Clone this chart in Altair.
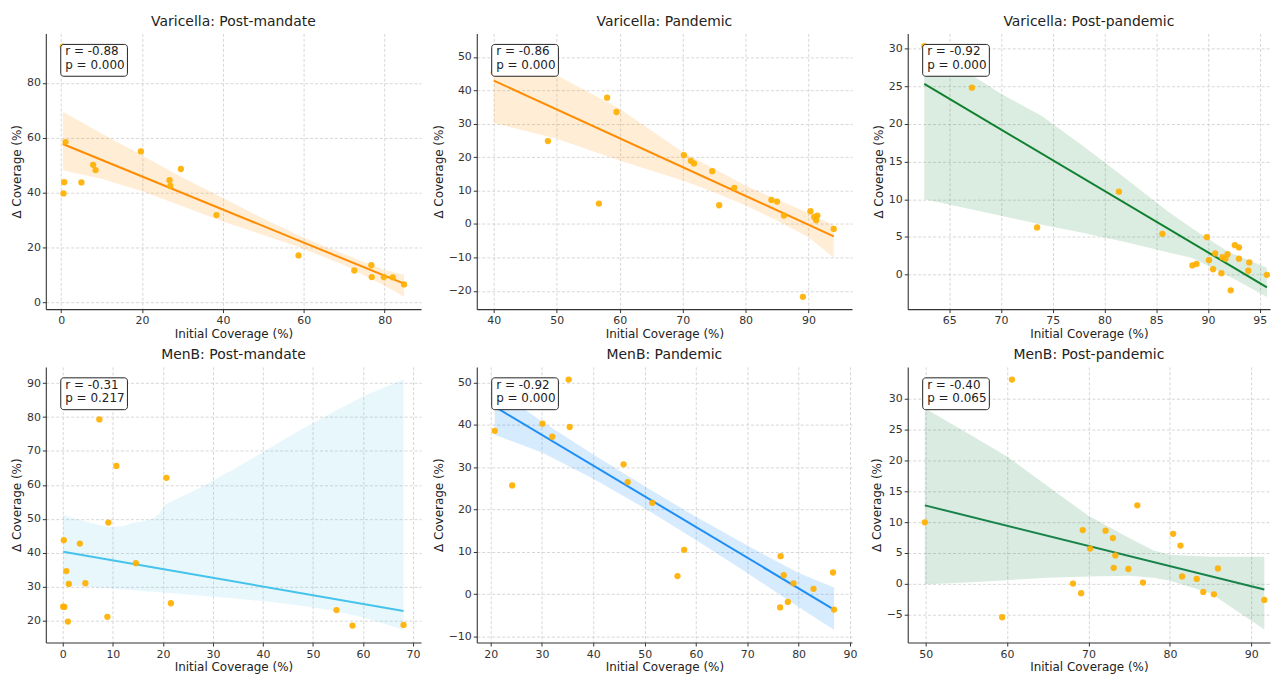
import altair as alt
import pandas as pd

FONT = "DejaVu Sans"
POINT_COLOR = "#FFB000"

titles = ["Varicella: Post-mandate", "Varicella: Pandemic", "Varicella: Post-pandemic",
          "MenB: Post-mandate", "MenB: Pandemic", "MenB: Post-pandemic"]
r_labels = ["r = -0.88", "r = -0.86", "r = -0.92", "r = -0.31", "r = -0.92", "r = -0.40"]
p_labels = ["p = 0.000", "p = 0.000", "p = 0.000", "p = 0.217", "p = 0.000", "p = 0.065"]
line_colors = ["#FF8C00", "#FF8C00", "#0F8030", "#45C3EB", "#1E8FF5", "#17834A"]
band_opacity = [0.16, 0.16, 0.15, 0.13, 0.18, 0.16]

# ---- Varicella: Post-mandate ----
p1_x = [0.4, 1.07, 0.74, 0.57, 5.0, 7.9, 8.5, 19.7, 26.8, 27.0, 29.6, 38.4, 58.7, 72.5, 76.7, 76.8, 79.8, 82.0, 84.8]
p1_y = [93.2, 58.4, 43.8, 39.7, 43.7, 50.1, 48.2, 55.0, 44.5, 42.4, 48.6, 31.8, 17.1, 11.6, 13.5, 9.2, 9.2, 9.1, 6.5]
p1_line_x = [0.4, 84.8]
p1_line_y = [57.7, 6.8]
p1_band_x = [0.4, 10, 20, 30, 40, 50, 60, 70, 80, 84.8]
p1_band_hi = [69.5, 61.5, 53.5, 45.5, 38.0, 30.5, 23.5, 17.5, 11.8, 10.0]
p1_band_lo = [48.1, 45.0, 40.5, 35.0, 29.5, 24.5, 19.5, 13.5, 6.0, 2.0]

# ---- Varicella: Pandemic ----
p2_x = [40.0, 48.6, 56.7, 58.0, 59.5, 70.2, 71.3, 71.8, 74.7, 75.8, 78.2, 84.1, 85.0, 86.1, 89.1, 90.3, 90.9, 91.4, 91.2, 94.0]
p2_y = [45.3, 24.8, 6.1, 37.8, 33.5, 20.6, 18.9, 18.1, 15.8, 5.6, 10.8, 7.2, 6.7, 2.5, -21.8, 3.8, 2.1, 2.5, 1.1, -1.5]
p2_line_x = [40.0, 94.0]
p2_line_y = [42.9, -3.7]
p2_band_x = [40.0, 50, 60, 70, 75, 80, 85, 90, 94.0]
p2_band_hi = [52.0, 44.5, 34.5, 21.5, 16.5, 11.5, 7.3, 3.3, -0.5]
p2_band_lo = [30.2, 25.5, 19.0, 13.0, 9.5, 5.5, 1.0, -4.0, -10.1]

# ---- Varicella: Post-pandemic ----
p3_x = [62.6, 67.2, 73.5, 81.4, 85.6, 88.5, 88.9, 89.9, 90.1, 90.5, 90.7, 91.3, 91.4, 91.7, 91.9, 92.2, 92.6, 93.0, 93.0, 93.9, 94.0, 95.7]
p3_y = [30.3, 24.8, 6.25, 11.0, 5.4, 1.2, 1.4, 4.96, 1.9, 0.7, 2.8, 0.17, 2.3, 2.1, 2.7, -2.1, 3.9, 3.6, 2.1, 0.5, 1.6, -0.04]
p3_line_x = [62.6, 95.7]
p3_line_y = [25.3, -1.7]
p3_band_x = [62.6, 66, 70, 74, 78, 82, 86, 88.5, 92, 95.7]
p3_band_hi = [30.0, 27.5, 24.0, 21.0, 17.0, 12.8, 8.5, 6.1, 3.0, 0.9]
p3_band_lo = [10.0, 9.0, 7.8, 6.6, 5.5, 4.3, 3.0, 2.2, -0.2, -3.0]

# ---- MenB: Post-mandate ----
p4_x = [0.2, 0.07, 0.3, 0.7, 1.0, 1.2, 3.4, 4.5, 7.3, 8.9, 9.1, 10.7, 14.6, 20.7, 21.6, 54.7, 57.9, 68.1]
p4_y = [43.7, 24.1, 24.0, 34.6, 19.7, 30.8, 42.7, 31.0, 79.3, 21.1, 48.9, 65.6, 36.9, 62.1, 25.1, 23.1, 18.5, 18.7]
p4_line_x = [0.07, 68.1]
p4_line_y = [40.3, 22.8]
p4_band_x = [0.07, 5, 9.3, 12, 14, 16, 18, 19.2, 20.5, 23.2, 27.2, 33.8, 40.4, 47, 53.6, 60.3, 68.1]
p4_band_hi = [51.1, 49.0, 47.5, 47.8, 48.8, 49.2, 50.0, 51.4, 54.2, 56.1, 59.0, 64.3, 70.0, 75.8, 81.1, 86.3, 91.1]
p4_band_lo = [30.5, 30.0, 29.5, 29.2, 29.0, 28.7, 28.5, 28.4, 28.2, 27.9, 27.4, 26.6, 25.7, 24.5, 23.0, 20.8, 17.3]

# ---- MenB: Pandemic ----
p5_x = [20.8, 24.2, 30.1, 32.0, 35.2, 35.4, 45.9, 46.7, 51.5, 56.4, 57.7, 76.4, 76.5, 77.1, 77.9, 79.0, 82.9, 86.7, 86.9]
p5_y = [38.6, 25.7, 40.3, 37.2, 50.7, 39.5, 30.7, 26.5, 21.6, 4.3, 10.5, -3.1, 9.0, 4.5, -1.8, 2.6, 1.3, 5.15, -3.6]
p5_line_x = [20.8, 86.9]
p5_line_y = [44.3, -3.6]
p5_band_x = [20.8, 30, 40, 50, 60, 70, 80, 86.9]
p5_band_hi = [48.5, 40.8, 33.0, 25.5, 18.3, 11.5, 5.0, 1.6]
p5_band_lo = [37.7, 33.5, 27.3, 20.3, 12.8, 5.0, -3.0, -8.4]

# ---- MenB: Post-pandemic ----
p6_x = [49.9, 59.4, 60.6, 68.1, 69.1, 69.3, 70.2, 72.1, 73.0, 73.1, 73.3, 74.9, 76.0, 76.7, 80.4, 81.3, 81.5, 83.3, 84.1, 85.4, 85.9, 91.6]
p6_y = [9.95, -5.4, 33.05, 0.05, -1.5, 8.7, 5.7, 8.6, 7.4, 2.6, 4.6, 2.4, 12.7, 0.2, 8.1, 6.2, 1.2, 0.8, -1.3, -1.7, 2.5, -2.6]
p6_line_x = [49.9, 91.6]
p6_line_y = [12.7, -0.9]
p6_band_x = [49.9, 55, 60, 65, 70, 75, 78, 80, 85, 91.6]
p6_band_hi = [28.4, 24.5, 20.6, 15.8, 11.0, 7.4, 5.4, 4.7, 4.4, 4.4]
p6_band_lo = [-0.05, 0.2, 0.6, 1.0, 1.2, 1.3, 1.0, 0.5, -1.5, -7.4]

# ---- axes ----
x_domains = [[-3.8, 89], [37.3, 96.9], [61, 96.0], [-3.4, 71.6], [17.3, 90.4], [47.8, 92.3]]
y_domains = [[-2.5, 98], [-25.5, 57], [-4.6, 32], [13.5, 94.8], [-11.4, 53.7], [-9.5, 35.1]]
x_ticks = [[0, 20, 40, 60, 80], [40, 50, 60, 70, 80, 90], [65, 70, 75, 80, 85, 90, 95],
           [0, 10, 20, 30, 40, 50, 60, 70], [20, 30, 40, 50, 60, 70, 80, 90], [50, 60, 70, 80, 90]]
y_ticks = [[0, 20, 40, 60, 80], [-20, -10, 0, 10, 20, 30, 40, 50], [0, 5, 10, 15, 20, 25, 30],
           [20, 30, 40, 50, 60, 70, 80, 90], [-10, 0, 10, 20, 30, 40, 50], [-5, 0, 5, 10, 15, 20, 25, 30]]
widths = [377, 377, 364, 377, 377, 364]
PLOT_H = 277

series = [
    (p1_x, p1_y, p1_line_x, p1_line_y, p1_band_x, p1_band_lo, p1_band_hi),
    (p2_x, p2_y, p2_line_x, p2_line_y, p2_band_x, p2_band_lo, p2_band_hi),
    (p3_x, p3_y, p3_line_x, p3_line_y, p3_band_x, p3_band_lo, p3_band_hi),
    (p4_x, p4_y, p4_line_x, p4_line_y, p4_band_x, p4_band_lo, p4_band_hi),
    (p5_x, p5_y, p5_line_x, p5_line_y, p5_band_x, p5_band_lo, p5_band_hi),
    (p6_x, p6_y, p6_line_x, p6_line_y, p6_band_x, p6_band_lo, p6_band_hi),
]


def make_panel(i):
    px, py, lx, ly, bx, blo, bhi = series[i]
    color = line_colors[i]
    pts = pd.DataFrame({"x": px, "y": py})
    line = pd.DataFrame({"x": lx, "y": ly})
    band = pd.DataFrame({"x": bx, "lo": blo, "hi": bhi})
    xs = alt.Scale(domain=x_domains[i], nice=False, zero=False)
    ys = alt.Scale(domain=y_domains[i], nice=False, zero=False)
    xa = alt.Axis(values=x_ticks[i], title="Initial Coverage (%)", format="d")
    ya = alt.Axis(values=y_ticks[i], title="Δ Coverage (%)", format="d")
    X = alt.X("x:Q", scale=xs, axis=xa)

    band_l = alt.Chart(band).mark_area(color=color, opacity=band_opacity[i]).encode(
        x=X, y=alt.Y("hi:Q", scale=ys, axis=ya), y2="lo:Q")
    line_l = alt.Chart(line).mark_line(color=color, strokeWidth=2).encode(
        x=X, y=alt.Y("y:Q", scale=ys, axis=ya))
    pts_l = alt.Chart(pts).mark_circle(color=POINT_COLOR, size=40, opacity=0.92).encode(
        x=X, y=alt.Y("y:Q", scale=ys, axis=ya))

    box_df = pd.DataFrame({"t": [r_labels[i] + "\n" + p_labels[i]]})
    box = alt.Chart(box_df).mark_rect(fill="white", stroke="#222222", strokeWidth=1,
                                      cornerRadius=3).encode(
        x=alt.value(15), x2=alt.value(82), y=alt.value(11), y2=alt.value(43))
    txt = alt.Chart(box_df).mark_text(align="left", baseline="top", font=FONT, fontSize=12,
                                      lineHeight=13.4, lineBreak="\n", color="#222222").encode(
        x=alt.value(19.5), y=alt.value(13), text="t:N")

    return alt.layer(band_l, line_l, pts_l, box, txt).properties(
        width=widths[i], height=PLOT_H,
        title=alt.TitleParams(titles[i], fontSize=14, font=FONT, fontWeight="normal",
                              color="#222222", offset=5, anchor="middle"))


panels = [make_panel(i) for i in range(6)]

chart = alt.concat(*panels, columns=3, spacing={"row": 58, "column": 56},
                   bounds="flush", align="each").properties(
    padding={"left": 2, "top": 4, "right": 2, "bottom": 2})

chart = chart.configure_view(stroke="transparent").configure_axis(
    labelFont=FONT, labelFontSize=11, labelColor="#333333",
    titleFont=FONT, titleFontSize=12, titleFontWeight="normal", titleColor="#222222",
    domainColor="#333333", domainWidth=1.1, tickColor="#333333", tickSize=3.5, tickWidth=1,
    labelPadding=2, titlePadding=3, labelFlush=False,
    gridColor="#cccccc", gridDash=[3, 2], gridWidth=0.8)

chart.save("out.html", embed_options={"renderer": "svg", "actions": False})
